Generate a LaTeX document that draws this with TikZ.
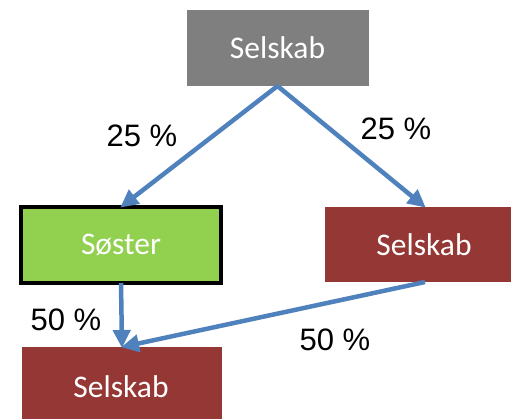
\documentclass[tikz,border=0pt]{standalone}
\usepackage{fontspec}
\setmainfont{Liberation Sans}
\newfontfamily\boxfont{Carlito}
\usetikzlibrary{arrows.meta}
\definecolor{boxgray}{HTML}{7F7F7F}
\definecolor{boxgreen}{HTML}{92D050}
\definecolor{boxred}{HTML}{953735}
\definecolor{arrblue}{HTML}{4F81BD}
\tikzset{
  ent/.style={rectangle, inner sep=0pt, outer sep=0pt, text=white,
    font=\boxfont\fontsize{31.5}{31.5}\selectfont},
  pct/.style={inner sep=0pt, font=\fontsize{31}{31}\selectfont},
  link/.style={draw=arrblue, line width=4.5pt,
    -{Triangle[length=18pt,width=17pt]}, shorten >=-1pt}
}
\begin{document}
\begin{tikzpicture}[x=1pt,y=-1pt]
\useasboundingbox (0,0) rectangle (511,418);
\node[ent, fill=boxgray, minimum width=182pt, minimum height=76pt] (top) at (277.5,48) {Selskab};
\node[ent, fill=boxgreen, draw=black, line width=4pt, minimum width=200pt, minimum height=76pt] (soster) at (121,245) {Søster};
\node[ent, fill=boxred, minimum width=186pt, minimum height=75pt] (right) at (418,244.5) {};
\node[ent] (righttxt) at (424,244.5) {Selskab};
\node[ent, fill=boxred, minimum width=200pt, minimum height=72pt] (bottom) at (122,383) {};
\node[ent] (bottomtxt) at (121,387) {Selskab};
\node[pct] (p1) at (142,136) {25 \%};
\node[pct] (p2) at (396,129) {25 \%};
\node[pct] (p3) at (66,320) {50 \%};
\node[pct] (p4) at (335,340) {50 \%};
\draw[link] (top.south) -- (soster.north);
\draw[link] (top.south) -- ([xshift=7pt]right.north);
\draw[link] (soster.south) -- (bottom.north);
\draw[link] ([xshift=7pt]right.south) -- (bottom.north);
\end{tikzpicture}
\end{document}
